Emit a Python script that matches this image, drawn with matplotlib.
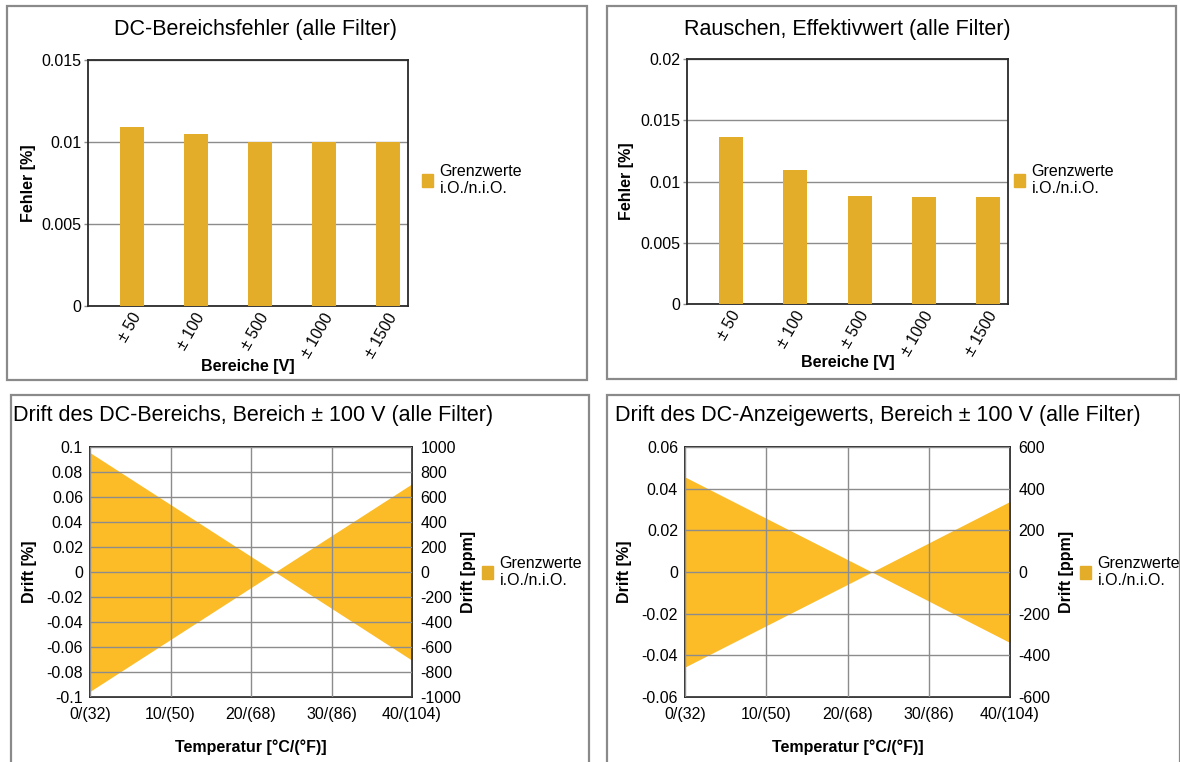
import matplotlib.pyplot as plt
from matplotlib.patches import Rectangle, Patch
from matplotlib.transforms import ScaledTranslation
import numpy as np

plt.rcParams['font.family'] = ['Liberation Sans', 'DejaVu Sans']
plt.rcParams['axes.unicode_minus'] = False

W, H = 1180, 762
FS = 11.5

# Data
ranges = ['± 50', '± 100', '± 500', '± 1000', '± 1500']
dc_range_error = [0.0109, 0.01046, 0.01003, 0.01003, 0.0100]
noise_rms = [0.01365, 0.01091, 0.00882, 0.00874, 0.00874]

temp_c = [0, 23, 40]
temp_ticks = [0, 10, 20, 30, 40]
temp_labels = ['0/(32)', '10/(50)', '20/(68)', '30/(86)', '40/(104)']
drift_range_upper = [0.0955, 0.0, 0.0706]
drift_range_lower = [-0.0955, 0.0, -0.0706]
drift_reading_upper = [0.0456, 0.0, 0.0339]
drift_reading_lower = [-0.0456, 0.0, -0.0339]

legend_label = 'Grenzwerte\ni.O./n.i.O.'
bar_color = '#E3AD29'
fill_color = '#FCBC27'
grid_color = '#8C8C8C'
spine_color = '#2A2A2A'


def px_rect(l, t, r, b):
    return [l / W, 1 - b / H, (r - l) / W, (b - t) / H]


def style_axes(ax):
    for s in ax.spines.values():
        s.set_color(spine_color)
        s.set_linewidth(1.3)
    ax.tick_params(labelsize=FS, colors='black')


def add_legend(fig, ax, x, y):
    ax.legend(handles=[Patch(color=bar_color, label=legend_label)], loc='center left',
              bbox_to_anchor=(x / W, 1 - y / H), bbox_transform=fig.transFigure,
              frameon=False, fontsize=FS, handlelength=0.7, handleheight=0.85,
              handletextpad=0.4, borderpad=0, borderaxespad=0, labelspacing=0.2)


def bar_panel(fig, rect, values, ymax, yticks, title, title_x, xlabel_y, legend_x):
    ax = fig.add_axes(px_rect(*rect))
    style_axes(ax)
    pos = np.arange(len(values)) + 0.5
    ax.bar(pos, values, width=0.375, align='edge', color=bar_color, zorder=3)
    ax.set_xlim(0, len(values))
    ax.set_ylim(0, ymax)
    ax.set_yticks(yticks)
    ax.set_yticklabels(['0' if v == 0 else f'{v:g}' for v in yticks])
    ax.tick_params(axis='y', length=3, width=1, color=grid_color, pad=2)
    ax.set_xticks(pos + 0.27)
    ax.set_xticklabels(ranges, rotation=60, ha='right', va='center', rotation_mode='anchor')
    ax.tick_params(axis='x', length=0, pad=6)
    ax.yaxis.grid(True, color=grid_color, lw=1, zorder=1)
    ax.set_axisbelow(True)
    ax.set_ylabel('Fehler [%]', fontsize=FS, fontweight='bold', labelpad=4)
    fig.text(title_x / W, 1 - 30 / H, title, fontsize=15.5, ha='center', va='center')
    fig.text((rect[0] + rect[2]) / 2 / W, 1 - xlabel_y / H, 'Bereiche [V]',
             fontsize=FS, fontweight='bold', ha='center', va='center')
    add_legend(fig, ax, legend_x, 180)
    return ax


def drift_panel(fig, rect, upper, lower, ylim, ystep, ppm_lim, ppm_step, title, title_x,
                legend_x, right_label_x):
    ax = fig.add_axes(px_rect(*rect))
    style_axes(ax)
    ax.fill_between(temp_c, lower, upper, color=fill_color, lw=0, zorder=1)
    ax.set_xlim(0, 40)
    ax.set_ylim(-ylim, ylim)
    yt = np.round(np.arange(-ylim, ylim + ystep / 2, ystep), 4)
    ax.set_yticks(yt)
    ax.set_yticklabels(['0' if abs(v) < 1e-9 else f'{v:g}' for v in yt])
    ax.set_xticks(temp_ticks)
    ax.set_xticklabels(temp_labels)
    shift = ScaledTranslation(6 / 100, 0, fig.dpi_scale_trans)
    for lbl in ax.get_xticklabels():
        lbl.set_transform(lbl.get_transform() + shift)
    ax.tick_params(length=0, pad=5)
    ax.tick_params(axis='x', pad=7)
    ax.grid(True, color=grid_color, lw=1, zorder=2)
    ax.set_axisbelow(False)
    ax.set_ylabel('Drift [%]', fontsize=FS, fontweight='bold', labelpad=7)
    ax.set_xlabel('Temperatur [°C/(°F)]', fontsize=FS, fontweight='bold', labelpad=13)

    ax2 = ax.twinx()
    ax2.set_ylim(-ppm_lim, ppm_lim)
    ax2.set_yticks(np.arange(-ppm_lim, ppm_lim + 1, ppm_step))
    ax2.tick_params(length=0, labelsize=FS, pad=6)
    for s in ax2.spines.values():
        s.set_visible(False)
    fig.text(right_label_x / W, 1 - 572 / H, 'Drift [ppm]', fontsize=FS, fontweight='bold',
             rotation=90, ha='center', va='center')

    fig.text(title_x / W, 1 - 416 / H, title, fontsize=15.5, ha='left', va='center')
    add_legend(fig, ax, legend_x, 572)
    return ax


def main():
    fig = plt.figure(figsize=(W / 100, H / 100), dpi=100)

    # panel frames
    for l, t, r, b in [(7, 6, 587, 380), (607, 6, 1176, 379), (11, 395, 589, 775), (607, 395, 1180, 775)]:
        fig.patches.append(Rectangle((l / W, 1 - b / H), (r - l) / W, (b - t) / H,
                                     transform=fig.transFigure, fill=False,
                                     edgecolor='#8A8A8A', lw=1.6))

    bar_panel(fig, (88, 60, 408, 306), dc_range_error, 0.015, [0, 0.005, 0.01, 0.015],
              'DC-Bereichsfehler (alle Filter)', 256, 366, 422)
    bar_panel(fig, (687, 59, 1008, 304), noise_rms, 0.02, [0, 0.005, 0.01, 0.015, 0.02],
              'Rauschen, Effektivwert (alle Filter)', 847, 362, 1014)

    drift_panel(fig, (90, 447, 412, 697), drift_range_upper, drift_range_lower, 0.1, 0.02,
                1000, 200, 'Drift des DC-Bereichs, Bereich ± 100 V (alle Filter)', 13, 482, 469)
    drift_panel(fig, (685, 447, 1010, 697), drift_reading_upper, drift_reading_lower, 0.06, 0.02,
                600, 200, 'Drift des DC-Anzeigewerts, Bereich ± 100 V (alle Filter)', 615, 1080, 1067)

    fig.savefig('out.png', dpi=100)


if __name__ == '__main__':
    main()
